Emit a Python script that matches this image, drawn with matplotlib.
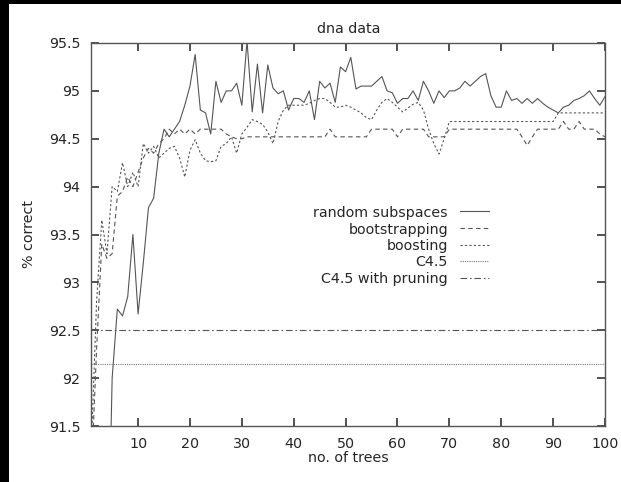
import matplotlib
matplotlib.use("Agg")
import matplotlib.pyplot as plt
from matplotlib.patches import Rectangle
from matplotlib.lines import Line2D

plt.rcParams['font.family'] = ['DejaVu Sans']

trees = list(range(1, 101))

random_subspaces = [
    88.0, 88.5, 89.0, 89.5, 92.0, 92.72, 92.65, 92.85, 93.5, 92.67,
    93.2, 93.78, 93.88, 94.35, 94.6, 94.52, 94.6, 94.68, 94.85, 95.05,
    95.38, 94.8, 94.77, 94.55, 95.1, 94.88, 95.0, 95.0, 95.08, 94.85,
    95.52, 94.78, 95.28, 94.77, 95.27, 95.03, 94.97, 95.0, 94.8, 94.92,
    94.92, 94.88, 95.0, 94.7, 95.1, 95.03, 95.08, 94.88, 95.25, 95.2,
    95.35, 95.02, 95.05, 95.05, 95.05, 95.1, 95.15, 95.0, 94.98, 94.87,
    94.92, 94.92, 95.0, 94.9, 95.1, 95.0, 94.87, 95.0, 94.93, 95.0,
    95.0, 95.03, 95.1, 95.05, 95.1, 95.15, 95.18, 94.95, 94.83, 94.83,
    95.0, 94.9, 94.92, 94.87, 94.92, 94.87, 94.92, 94.87, 94.83, 94.8,
    94.77, 94.83, 94.85, 94.9, 94.92, 94.95, 95.0, 94.92, 94.85, 94.94,
]

bootstrapping = [
    91.0, 92.3, 93.4, 93.25, 93.3, 93.9, 93.95, 94.1, 94.0, 94.15,
    94.3, 94.4, 94.35, 94.45, 94.5, 94.6, 94.55, 94.6, 94.55, 94.6,
    94.55, 94.6, 94.6, 94.6, 94.6, 94.6, 94.55, 94.52, 94.5, 94.5,
    94.52, 94.52, 94.52, 94.52, 94.52, 94.52, 94.52, 94.52, 94.52, 94.52,
    94.52, 94.52, 94.52, 94.52, 94.52, 94.52, 94.6, 94.52, 94.52, 94.52,
    94.52, 94.52, 94.52, 94.52, 94.6, 94.6, 94.6, 94.6, 94.6, 94.52,
    94.6, 94.6, 94.6, 94.6, 94.6, 94.52, 94.52, 94.52, 94.52, 94.6,
    94.6, 94.6, 94.6, 94.6, 94.6, 94.6, 94.6, 94.6, 94.6, 94.6,
    94.6, 94.6, 94.6, 94.52, 94.43, 94.52, 94.6, 94.6, 94.6, 94.6,
    94.6, 94.68, 94.6, 94.6, 94.68, 94.6, 94.6, 94.6, 94.55, 94.52,
]

boosting = [
    91.3, 92.8, 93.65, 93.3, 94.0, 93.95, 94.25, 94.0, 94.15, 94.0,
    94.45, 94.35, 94.42, 94.3, 94.35, 94.4, 94.42, 94.3, 94.1, 94.38,
    94.49, 94.35, 94.27, 94.26, 94.27, 94.42, 94.45, 94.52, 94.35, 94.55,
    94.62, 94.7, 94.68, 94.65, 94.57, 94.45, 94.68, 94.8, 94.85, 94.85,
    94.85, 94.85, 94.87, 94.9, 94.92, 94.92, 94.88, 94.83, 94.83, 94.85,
    94.83, 94.8, 94.77, 94.72, 94.7, 94.8, 94.88, 94.92, 94.88, 94.83,
    94.78, 94.82, 94.86, 94.88, 94.8, 94.6, 94.45, 94.34, 94.5, 94.68,
    94.68, 94.68, 94.68, 94.68, 94.68, 94.68, 94.68, 94.68, 94.68, 94.68,
    94.68, 94.68, 94.68, 94.68, 94.68, 94.68, 94.68, 94.68, 94.68, 94.68,
    94.77, 94.77, 94.77, 94.77, 94.77, 94.77, 94.77, 94.77, 94.77, 94.77,
]

c45 = 92.15
c45_pruning = 92.5

labels = ["random subspaces", "bootstrapping", "boosting", "C4.5", "C4.5 with pruning"]

xticks = [10, 20, 30, 40, 50, 60, 70, 80, 90, 100]
yticks = [91.5, 92, 92.5, 93, 93.5, 94, 94.5, 95, 95.5]
ytick_labels = ["91.5", "92", "92.5", "93", "93.5", "94", "94.5", "95", "95.5"]

W, H = 621, 482
FS = 10.3
TXT = "#262626"
fig = plt.figure(figsize=(W / 100, H / 100), dpi=100)
fig.patch.set_facecolor("white")

# black frame strips on the left and top edge
fig.add_artist(Rectangle((0, 0), 9 / W, 1, transform=fig.transFigure,
                         facecolor="black", edgecolor="none", zorder=0))
fig.add_artist(Rectangle((0, 1 - 4 / H), 1, 4 / H, transform=fig.transFigure,
                         facecolor="black", edgecolor="none", zorder=0))

ax = fig.add_axes([91.4 / W, 1 - 426 / H, (605 - 91.4) / W, (426 - 43) / H])

lc = "#555555"
lw = 0.8
styles = [
    dict(color=lc, lw=lw, ls="-"),
    dict(color=lc, lw=lw, ls=(0, (4, 3))),
    dict(color=lc, lw=lw, ls=(0, (2, 2))),
    dict(color="#777777", lw=lw, ls=(0, (1, 1))),
    dict(color=lc, lw=lw, ls=(0, (6, 2.5, 1.5, 2.5))),
]

ax.plot(trees, random_subspaces, **styles[0])
ax.plot(trees, bootstrapping, **styles[1])
ax.plot(trees, boosting, **styles[2])
ax.axhline(c45, **styles[3])
ax.axhline(c45_pruning, **styles[4])

ax.set_xlim(1, 100)
ax.set_ylim(91.5, 95.5)
ax.set_xticks(xticks)
ax.set_yticks(yticks)
ax.set_yticklabels(ytick_labels)

ax.tick_params(direction="in", top=True, right=True, length=5.5, width=1.2,
               colors="#333333", labelcolor=TXT, labelsize=FS)
ax.tick_params(axis="x", pad=7.8)
ax.tick_params(axis="y", pad=8)
for s in ax.spines.values():
    s.set_color("#555555")
    s.set_linewidth(1.0)

ax.set_title("dna data", fontsize=FS, color=TXT, pad=7.2)
ax.set_xlabel("no. of trees", fontsize=FS, color=TXT, labelpad=0)
ax.set_ylabel("% correct", fontsize=FS, color=TXT, labelpad=9)

# key: right-aligned labels with line samples to their right
key_rows = [211, 228, 244.5, 261, 277.5]
for lab, st, yp in zip(labels, styles, key_rows):
    yf = 1 - yp / H
    fig.text(448 / W, 1 - (yp + 5.5) / H, lab, ha="right", va="baseline",
             fontsize=FS, color=TXT)
    fig.add_artist(Line2D([460 / W, 489 / W], [yf, yf], transform=fig.transFigure, **st))

fig.savefig("out.png", dpi=100)
